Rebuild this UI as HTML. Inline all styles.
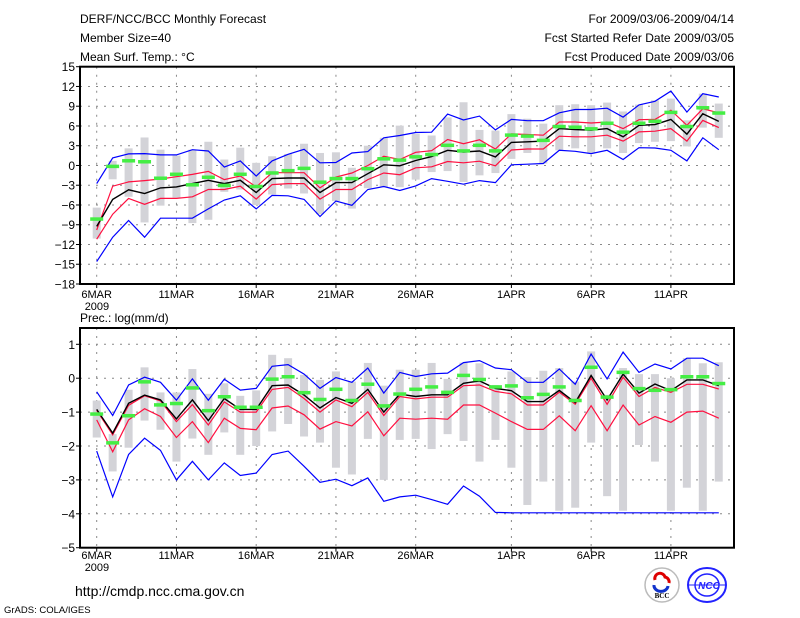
<!DOCTYPE html>
<html><head><meta charset="utf-8"><style>
html,body{margin:0;padding:0;background:#fff;}
svg{display:block;font-family:"Liberation Sans",sans-serif;}
</style></head><body>
<svg id="chart" width="800" height="618" viewBox="0 0 800 618" xmlns="http://www.w3.org/2000/svg">
<g font-size="12" fill="#000">
<text x="80" y="23">DERF/NCC/BCC Monthly Forecast</text>
<text x="80" y="42">Member Size=40</text>
<text x="80" y="61">Mean Surf. Temp.: °C</text>
<text x="734" y="23" text-anchor="end">For 2009/03/06-2009/04/14</text>
<text x="734" y="42" text-anchor="end">Fcst Started Refer Date 2009/03/05</text>
<text x="734" y="61" text-anchor="end">Fcst Produced Date 2009/03/06</text>
<text x="80" y="322">Prec.: log(mm/d)</text>
</g>
<g id="top"></g>
<g id="bot"></g>
<text x="75" y="596" font-size="14">http://cmdp.ncc.cma.gov.cn</text>
<text x="4" y="613" font-size="9.5">GrADS: COLA/IGES</text>
<g>
<circle cx="662" cy="585" r="17" fill="#fff" stroke="#bbb" stroke-width="1.5"/>
<path d="M655 580 a5 5 0 0 1 10 -3 a5 5 0 0 1 4 6" fill="none" stroke="#d00" stroke-width="3"/>
<path d="M654 585 a6 5 0 0 0 14 1" fill="none" stroke="#13c" stroke-width="3"/>
<text x="662" y="598" font-size="7" font-weight="bold" text-anchor="middle" font-family="Liberation Serif,serif">BCC</text>
</g>
<g>
<ellipse cx="707" cy="585" rx="19" ry="17" fill="#fff" stroke="#22f" stroke-width="2"/>
<ellipse cx="707" cy="585" rx="12" ry="11" fill="none" stroke="#22f" stroke-width="1.5"/>
<line x1="689" y1="585" x2="725" y2="585" stroke="#22f"/>
<text x="709" y="589" font-size="10" font-style="italic" font-weight="bold" fill="#22f" text-anchor="middle">NCC</text>
</g>
</svg>
<script>
const dayLabels = ["6MAR","11MAR","16MAR","21MAR","26MAR","1APR","6APR","11APR"];
const dayLabelIdx = [0,5,10,15,20,26,31,36];
const tTicks = [15,12,9,6,3,0,-3,-6,-9,-12,-15,-18];
const pTicks = [1,0,-1,-2,-3,-4,-5];
// Temperature series (40 days)
const tBlueHi = [-2.75,1.15,1.75,1.8,1.6,1.6,2.4,2.2,-0.25,0.7,-1.6,0.7,1.7,2.45,0.4,0.45,1.9,2.1,4.2,4.55,5,5.05,7.8,6.9,7.5,5.4,7,6.8,6.8,8,8.5,8.5,8.7,7.35,9.2,9.75,11.3,8.1,10.9,10.4];
const tBlueLo = [-14.6,-10.9,-8.35,-10.9,-8,-8,-8,-6.6,-5.25,-4.6,-6.6,-4.55,-4.6,-5.15,-7.75,-5.4,-6.05,-3.65,-3.2,-3.8,-3.1,-2,-2.4,-2.85,-2.3,-2.6,0.1,0.2,0.3,2.3,2.15,1.8,2.3,0.9,2.7,2.65,2.3,0.7,4.2,2.4];
const tRedHi = [-9.8,-3.15,-2.5,-2.3,-2.05,-1.7,-1.35,-0.9,-2.15,-1.6,-3.25,-1.1,-1.1,-1.1,-3.4,-1.75,-1.15,0,1.4,0.9,2,2.25,3.95,3.3,3.9,2.5,4.8,4.7,4.6,6.6,6.6,6.45,6.6,5.6,6.95,7,8.4,6.1,8.6,8];
const tRedLo = [-11.2,-7.4,-5,-5.9,-5,-5,-4.75,-3.65,-3.65,-3.15,-5.1,-2.9,-2.75,-2.75,-5.1,-3.65,-3.65,-2.15,-1.15,-1.4,-0.35,-0.2,0.6,0.4,0.65,-0.05,2.35,2.5,2.5,4.45,4.35,4.35,4.6,3.7,5.1,5.2,5.6,3.7,6.85,5.75];
const tMean = [-9.25,-5.15,-3.7,-4.25,-3.4,-3.25,-2.75,-2.25,-2.75,-2.25,-4.1,-2,-1.9,-1.9,-4.1,-2.6,-2.6,-1.25,0.1,-0.05,0.75,1.35,2.3,2.05,2.2,1.3,3.5,3.6,3.7,5.6,5.45,5.35,5.6,4.35,6.1,6.2,7,4.75,7.85,6.7];
const tGreen = [-8.1,-0.1,0.75,0.6,-1.9,-1.3,-2.9,-1.75,-3,-1.3,-3.15,-1.1,-0.75,-0.4,-2.5,-1.95,-1.95,-0.45,1.05,0.85,1.35,1.7,3.1,2.25,3.1,2.25,4.65,4.5,3.85,5.95,5.85,5.6,6.45,5.1,6.45,6.75,8.1,5.95,8.8,8];
const tMax = [-6.4,0.7,2.6,4.25,2.4,1.5,2.4,3.6,0.9,2.7,0.4,1.4,1.75,3.3,1.9,2,-0.35,3,4.2,6.05,4.8,4.55,7.3,9.6,5.4,5.3,7.8,7.1,6.35,9.15,9.3,9.15,9.55,8.2,9.25,9.9,10.15,6.85,10.9,9.4];
const tMin = [-11.1,-2.1,-4.75,-8.65,-6.1,-4.9,-8.75,-8.25,-4,-3.65,-6,-4.4,-3.5,-4.25,-7.4,-5.4,-6.55,-3.45,-3.3,-3.3,-2.15,-1,-0.85,-2.5,-1.5,-1.15,1,1.9,0.3,2.3,2.6,1.8,2.6,1.9,3.4,3.6,3.7,2.9,5.75,4.2];
// Precipitation series (40 days)
const pBlueHi = [-0.4,-1.1,-0.2,0.03,-0.12,-0.65,-0.02,-0.65,-0.03,-0.35,-0.3,0.35,0.4,0.12,-0.3,0.02,-0.12,0.3,-0.44,0.17,0.05,0.13,0.15,0.46,0.52,0.3,0.25,-0.12,-0.12,0.27,-0.18,0.71,-0.02,0.77,0.17,0.42,0.27,0.59,0.59,0.37];
const pBlueLo = [-2.15,-3.5,-2.25,-1.77,-2.13,-3,-2.45,-3,-2.5,-2.87,-2.8,-2.25,-2.15,-2.6,-3.07,-2.98,-3.17,-2.94,-3.63,-3.5,-3.45,-3.58,-3.72,-3.18,-3.48,-3.96,-3.97,-3.97,-3.97,-3.97,-3.97,-3.97,-3.97,-3.97,-3.97,-3.97,-3.97,-3.97,-3.97,-3.97];
const pRedHi = [-0.95,-1.67,-0.8,-0.52,-0.67,-1.28,-0.78,-1.38,-0.7,-1,-1,-0.33,-0.27,-0.6,-1,-0.64,-0.84,-0.42,-1.1,-0.54,-0.61,-0.56,-0.56,-0.22,-0.2,-0.39,-0.46,-0.79,-0.79,-0.41,-0.77,0,-0.77,0.03,-0.54,-0.27,-0.42,-0.18,-0.18,-0.32];
const pRedLo = [-1.23,-2.17,-1.23,-0.9,-1.13,-1.75,-1.28,-1.9,-1.18,-1.48,-1.52,-0.88,-0.82,-1.08,-1.5,-1.28,-1.41,-0.99,-1.7,-1.18,-1.21,-1.18,-1.21,-0.79,-0.79,-1.03,-1.28,-1.51,-1.51,-1.11,-1.55,-0.81,-1.55,-0.79,-1.38,-1.13,-1.3,-1,-0.97,-1.18];
const pMean = [-0.92,-1.62,-0.74,-0.5,-0.64,-1.2,-0.64,-1.25,-0.6,-0.92,-0.92,-0.22,-0.2,-0.5,-0.88,-0.57,-0.74,-0.33,-1,-0.47,-0.54,-0.49,-0.49,-0.15,-0.08,-0.3,-0.37,-0.69,-0.69,-0.36,-0.72,0.08,-0.64,0.12,-0.44,-0.17,-0.37,-0.05,-0.05,-0.22];
const pGreen = [-1.05,-1.9,-1.1,-0.1,-0.78,-0.74,-0.28,-0.95,-0.54,-0.85,-0.85,-0.02,0.05,-0.42,-0.62,-0.32,-0.65,-0.17,-0.81,-0.46,-0.32,-0.25,-0.41,0.09,-0.03,-0.25,-0.22,-0.57,-0.47,-0.25,-0.65,0.33,-0.55,0.18,-0.3,-0.35,-0.33,0.05,0.05,-0.15];
const pMax = [-0.66,-1.65,-0.34,0.32,-0.42,-0.42,0.27,-0.46,-0.15,-0.52,-0.36,0.69,0.59,0.1,-0.05,0.2,-0.1,0.45,-0.22,0.25,0.25,0.45,-0.02,0.46,0.44,-0.2,0.2,0.03,0.22,0.3,-0.1,0.79,-0.49,0.3,0.12,0.12,0,0.59,0.44,0.47];
const pMin = [-1.75,-2.75,-2.05,-1.25,-1.52,-2.46,-1.78,-2.26,-1.6,-2.26,-2,-1.57,-1.35,-1.72,-1.9,-2.64,-2.84,-1.79,-3,-1.82,-1.79,-2.09,-1.65,-1.85,-2.46,-1.82,-2.64,-3.74,-3.05,-3.91,-3.82,-1.9,-3.48,-3.91,-1.97,-2.46,-3.91,-3.23,-3.91,-3.05];

const NS='http://www.w3.org/2000/svg';
const X0=80, X1=734, D0=96.7, DX=15.95;
const xDay = i => D0 + DX*i;
function mk(parent, tag, attrs){const e=document.createElementNS(NS,tag);for(const k in attrs)e.setAttribute(k,attrs[k]);parent.appendChild(e);return e;}

function panel(g, yTop, yBot, vTop, vBot, ticks, frameTopV, prefix, S, labelY){
  const yy = frameTopV===null ? (v => yTop + (vTop - v)/(vTop - vBot)*(yBot-yTop)) : (v => S.y0 + (S.v0 - v)*S.k);
  const fTop = frameTopV===null ? yTop : yy(frameTopV);
  ticks.forEach(t=>{
    const ly=yy(t);
    if(ly>fTop+1 && ly<yBot-1){
      const l=mk(g,'line',{x1:X0,x2:X1,y1:ly,y2:ly,stroke:'#888','stroke-dasharray':'2,6'});
      
      
    }
    const tk=mk(g,'line',{x1:X0-4,x2:X0,y1:ly,y2:ly,stroke:'#000'});
    
    
    const tx=mk(g,'text',{x:X0-5,y:ly+4.5,'text-anchor':'end','font-size':'12'});
    tx.textContent=(t<0?'\u2212'+(-t):t);
    
    
  });
  dayLabelIdx.forEach((d,j)=>{
    const lx=xDay(d);
    const l=mk(g,'line',{x1:lx,x2:lx,y1:fTop,y2:yBot,stroke:'#888','stroke-dasharray':'2,6'});
    
    
    const tk=mk(g,'line',{x1:lx,x2:lx,y1:yBot,y2:yBot+4,stroke:'#000'});
    
    
    const tx=mk(g,'text',{x:lx,y:labelY,'text-anchor':'middle','font-size':'11'});
    tx.textContent=dayLabels[j];
    
    
  });
  const yr=mk(g,'text',{x:xDay(0)-12,y:labelY+12,'font-size':'11'});
  yr.textContent='2009';
  
  
  return {yy,fTop};
}

function series(g, yy, prefix, mx, mn, blueHi, blueLo, redHi, redLo, mean, green){
  mx.forEach((v,i)=>{
    const a=yy(v), b=yy(mn[i]);
    const r=mk(g,'rect',{x:xDay(i)-4,y:a,width:8,height:b-a,fill:'#d3d3d8'});
    
    
  });
  const line=(arr,color,w,name)=>{
    const p=mk(g,'polyline',{points:arr.map((v,i)=>xDay(i).toFixed(1)+','+yy(v).toFixed(1)).join(' '),fill:'none',stroke:color,'stroke-width':w});
    
    
  };
  line(blueHi,'#0000ff',1.2,prefix+'-upper-bound-line');
  line(blueLo,'#0000ff',1.2,prefix+'-lower-bound-line');
  line(redHi,'#ff1040',1.2,prefix+'-upper-spread-line');
  line(redLo,'#ff1040',1.2,prefix+'-lower-spread-line');
  line(mean,'#000',1.4,prefix+'-ensemble-mean-line');
  green.forEach((v,i)=>{
    const r=mk(g,'rect',{x:xDay(i)-6.5,y:yy(v)-1.5,width:13,height:3.5,fill:'#44ee44'});
    
    
  });
}

function frame(g,fTop,yBot,prefix){
  const f=mk(g,'rect',{x:X0,y:fTop,width:X1-X0,height:yBot-fTop,fill:'none',stroke:'#000','stroke-width':2});
  
  
}

const gT=document.getElementById('top');
const T=panel(gT,66.7,284,15,-18,tTicks,null,'temp',null,298);
series(gT,T.yy,'temp',tMax,tMin,tBlueHi,tBlueLo,tRedHi,tRedLo,tMean,tGreen);
frame(gT,66.7,284,'temp');

const gB=document.getElementById('bot');
const B=panel(gB,328,547.7,1,-5,pTicks,1.48,'prec',{y0:344.3,v0:1,k:33.9},559);
series(gB,B.yy,'prec',pMax,pMin,pBlueHi,pBlueLo,pRedHi,pRedLo,pMean,pGreen);
frame(gB,328,547.7,'prec');
</script>
</body></html>
